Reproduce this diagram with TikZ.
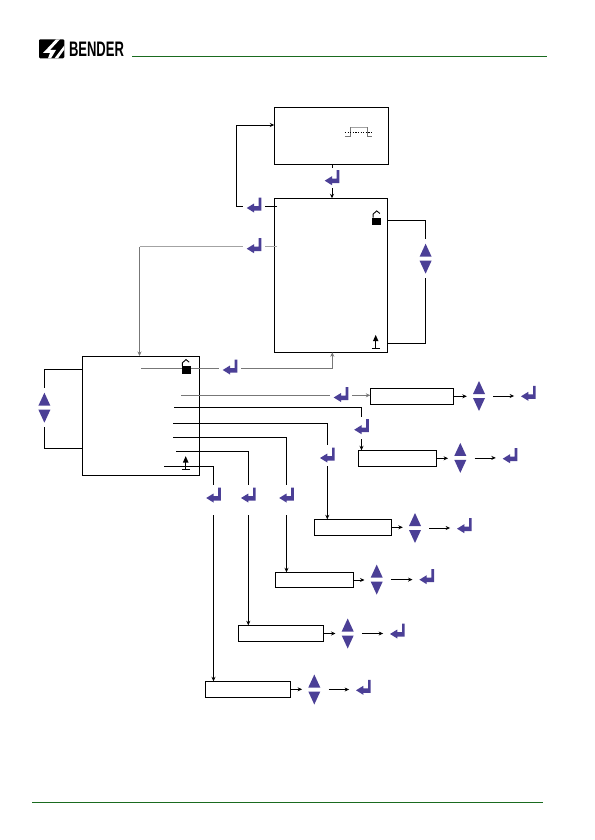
\documentclass[tikz,border=0pt]{standalone}
\usepackage{fontspec}
\usetikzlibrary{arrows.meta}
\setmainfont{Liberation Sans}
\definecolor{keyblue}{HTML}{4B3F96}
\definecolor{rulegreen}{HTML}{1A6B1F}
\definecolor{linegray}{HTML}{A3A3A3}
\definecolor{darkgray}{HTML}{777777}
\tikzset{
    menubox/.style={draw,line width=0.8pt,inner sep=0pt,outer sep=0pt,anchor=north west},
    enterkey/.style={inner sep=0pt,minimum width=22pt,minimum height=20pt,
        path picture={
            \begin{scope}[shift={(path picture bounding box.center)}]
                \fill[keyblue](-7.3,3)--(0,-1.5)--(0,1)--(4.7,1)--(4.7,-7.5)--(7.3,-7.5)--(7.3,5.5)--(0,5.5)--(0,7.5)--cycle;
            \end{scope}
        }},
    updownkey/.style={inner sep=0pt,minimum width=24pt,minimum height=39pt,
        path picture={
            \begin{scope}[shift={(path picture bounding box.center)}]
                \fill[keyblue](-6,-2)--(0,-15)--(6,-2)--cycle;
                \fill[keyblue](-6,2)--(0,15)--(6,2)--cycle;
            \end{scope}
        }},
    lockicon/.style={inner sep=0pt,minimum size=18pt,
        path picture={
            \begin{scope}[shift={(path picture bounding box.center)}]
                \fill(-4.5,-0.5)rectangle(4.5,6.8);
                \draw[line width=0.9pt](-3.6,-0.5)--++(0,-3.4)--++(3.6,-3.2)--++(3.2,2.6);
            \end{scope}
        }},
    groundicon/.style={inner sep=0pt,minimum size=16pt,
        path picture={
            \begin{scope}[shift={(path picture bounding box.center)}]
                \fill(-2.8,-0.5)--(0,-6.8)--(2.8,-0.5)--cycle;
                \draw[line width=1.1pt](0,-2)--(0,6.4);
                \draw[line width=0.8pt](-3.9,6.4)--(3.9,6.4);
            \end{scope}
        }},
    pulseicon/.style={inner sep=0pt,minimum width=28pt,minimum height=12pt,
        path picture={
            \begin{scope}[shift={(path picture bounding box.center)}]
                \draw[line width=0.7pt,darkgray](-13.4,4.5)--++(5.7,0)--++(0,-9)--++(16.6,0)--++(0,9)--++(4.4,0);
                \draw[line width=1pt,linegray](-7.7,-4.5)--++(16.6,0);
                \draw[line width=0.6pt,dash pattern=on 1.3pt off 1.3pt](-13.4,0)--(13.4,0);
            \end{scope}
        }},
    connector/.style={line width=0.8pt},
    tipped/.style={-{Stealth[length=4.5pt,width=4pt]}},
    nextarrow/.style={line width=0.8pt,tipped,shorten <=2pt,shorten >=3pt},
}
\begin{document}
\begin{tikzpicture}[x=1pt,y=-1pt]
    \useasboundingbox(0,0)rectangle(594,840);

    %testata
    \coordinate(headerstart)at(132.3,56.7);
    \coordinate(headerend)at(547,56.7);
    \coordinate(footerstart)at(32,802.5);
    \coordinate(footerend)at(543,802.5);
    \draw[rulegreen,line width=0.9pt](headerstart)--(headerend);
    \draw[rulegreen,line width=0.9pt](footerstart)--(footerend);
    \fill[rounded corners=1.2pt](39,39.3)rectangle(64.3,58.3);
    \fill[white](56,39.3)--(60,39.3)--(50,50)--(56,50)--(51,58.3)--(48,58.3)--(50,53)--(43,53)--cycle;
    \fill[white](64.3,45.5)--(64.3,49.5)--(58,58.3)--(54.5,58.3)--cycle;
    \node[inner sep=0pt,xscale=0.62,font=\bfseries\fontsize{21}{21}\selectfont](logotext)at(96.5,49.2){BENDER};

    %riquadri
    \node[menubox,minimum width=114pt,minimum height=57pt](pulsebox)at(274.3,107.3){};
    \node[menubox,minimum width=113pt,minimum height=154pt](menubox)at(274.3,198.3){};
    \node[menubox,minimum width=117pt,minimum height=119.3pt](mainbox)at(82.3,356){};
    \node[menubox,minimum width=83pt,minimum height=16pt](boxa)at(370.3,388.3){};
    \node[menubox,minimum width=78.4pt,minimum height=16pt](boxb)at(358.3,450.3){};
    \node[menubox,minimum width=77.4pt,minimum height=16pt](boxc)at(314.3,519.3){};
    \node[menubox,minimum width=78.4pt,minimum height=15.4pt](boxd)at(275.3,572.3){};
    \node[menubox,minimum width=85.4pt,minimum height=16.4pt](boxe)at(238.3,625.3){};
    \node[menubox,minimum width=85.4pt,minimum height=16pt](boxf)at(205.3,681.3){};

    %tasti
    \node[enterkey](enterpulse)at(332,177.7){};
    \node[enterkey](enterback)at(254,205){};
    \node[enterkey](entergray)at(254,245.7){};
    \node[enterkey](entermain)at(230,367){};
    \node[enterkey](enterrowa)at(341,394.5){};
    \node[enterkey](enterrowb)at(361.5,426.7){};
    \node[enterkey](enterrowc)at(327.3,455){};
    \node[enterkey](enterrowd)at(286.5,495){};
    \node[enterkey](enterrowe)at(248.3,495){};
    \node[enterkey](enterrowf)at(213.5,495){};
    \node[enterkey](okrowa)at(528.3,393.3){};
    \node[enterkey](okrowb)at(510,455.7){};
    \node[enterkey](okrowc)at(464.3,525.7){};
    \node[enterkey](okrowd)at(426.7,576.7){};
    \node[enterkey](okrowe)at(397.3,631){};
    \node[enterkey](okrowf)at(363.3,687.3){};
    \node[updownkey](updownmenu)at(425.6,258.7){};
    \node[updownkey](updownmain)at(44.4,407.7){};
    \node[updownkey](updowna)at(479,396){};
    \node[updownkey](updownb)at(460.3,457.9){};
    \node[updownkey](updownc)at(415,528){};
    \node[updownkey](updownd)at(376.7,579.6){};
    \node[updownkey](updowne)at(347.7,633.5){};
    \node[updownkey](updownf)at(314.3,689.5){};

    %collegamenti in alto
    \draw[connector](pulsebox.south -| enterpulse)--(enterpulse.north);
    \coordinate(pulseend)at(332,198.3);
    \draw[connector,tipped](enterpulse.south)--(pulseend);
    \coordinate(backline)at(277,206.3);
    \draw[connector](backline)--(backline -| enterback.east);
    \coordinate(backcorner)at(236.3,206.3);
    \coordinate(backup)at(236.3,125);
    \draw[connector,tipped](backcorner -| enterback.west)--(backcorner)--(backup)--(backup -| pulsebox.west);
    \coordinate(grayline)at(277,246.7);
    \draw[connector,linegray](grayline)--(grayline -| entergray.east);
    \coordinate(graycorner)at(139.5,246.7);
    \draw[connector,linegray](graycorner -| entergray.west)--(graycorner);
    \draw[connector,darkgray,tipped](graycorner)--(graycorner |- mainbox.north);
    \coordinate(menutop)at(387.3,220.3);
    \coordinate(menubottom)at(387.3,343.3);
    \draw[connector](menutop)-|(updownmenu.north);
    \draw[connector](menubottom)-|(updownmenu.south);
    \coordinate(maintop)at(82.3,369.3);
    \coordinate(mainbottom)at(82.3,448.3);
    \draw[connector](maintop)-|(updownmain.north);
    \draw[connector](mainbottom)-|(updownmain.south);

    %righe del menu
    \coordinate(linemain)at(141,368);
    \draw[connector,darkgray](linemain)--(linemain -| entermain.west);
    \coordinate(linemainb)at(241,368);
    \coordinate(menubase)at(332.3,352.3);
    \draw[connector,darkgray,tipped](linemainb)-|(menubase);
    \coordinate(linea)at(181,395.3);
    \draw[connector,darkgray](linea)--(linea -| enterrowa.west);
    \coordinate(lineab)at(352.3,395.3);
    \draw[connector,darkgray,tipped](lineab)--(lineab -| boxa.west);
    \coordinate(lineb)at(174,407.3);
    \draw[connector](lineb)-|(enterrowb.north);
    \coordinate(linebb)at(361.5,439);
    \draw[connector,tipped](linebb)--(linebb |- boxb.north);
    \coordinate(linec)at(173,423.3);
    \draw[connector](linec)-|(enterrowc.north);
    \coordinate(linecb)at(327.3,466);
    \draw[connector,tipped](linecb)--(linecb |- boxc.north);
    \coordinate(lined)at(173,437.3);
    \draw[connector](lined)-|(enterrowd.north);
    \coordinate(linedb)at(286.5,515);
    \draw[connector,tipped](linedb)--(linedb |- boxd.north);
    \coordinate(linee)at(176,451.3);
    \draw[connector](linee)-|(enterrowe.north);
    \coordinate(lineeb)at(248.3,515);
    \draw[connector,tipped](lineeb)--(lineeb |- boxe.north);
    \coordinate(linef)at(164,466.3);
    \draw[connector](linef)-|(enterrowf.north);
    \coordinate(linefb)at(213.5,515);
    \draw[connector,tipped](linefb)--(linefb |- boxf.north);

    %frecce delle righe
    \draw[connector,tipped](boxa.east)--(boxa.east -| updowna.west);
    \draw[nextarrow](updowna.east)--(updowna.east -| okrowa.west);
    \draw[connector,tipped](boxb.east)--(boxb.east -| updownb.west);
    \draw[nextarrow](updownb.east)--(updownb.east -| okrowb.west);
    \draw[connector,tipped](boxc.east)--(boxc.east -| updownc.west);
    \draw[nextarrow](updownc.east)--(updownc.east -| okrowc.west);
    \draw[connector,tipped](boxd.east)--(boxd.east -| updownd.west);
    \draw[nextarrow](updownd.east)--(updownd.east -| okrowd.west);
    \draw[connector,tipped](boxe.east)--(boxe.east -| updowne.west);
    \draw[nextarrow](updowne.east)--(updowne.east -| okrowe.west);
    \draw[connector,tipped](boxf.east)--(boxf.east -| updownf.west);
    \draw[nextarrow](updownf.east)--(updownf.east -| okrowf.west);

    %simboli
    \node[pulseicon](pulsesign)at(358.3,132.3){};
    \node[lockicon](locktop)at(376.7,218){};
    \node[groundicon](groundtop)at(375.7,341.7){};
    \node[lockicon](lockmain)at(186,366.7){};
    \node[groundicon](groundmain)at(185.7,463){};
\end{tikzpicture}
\end{document}
